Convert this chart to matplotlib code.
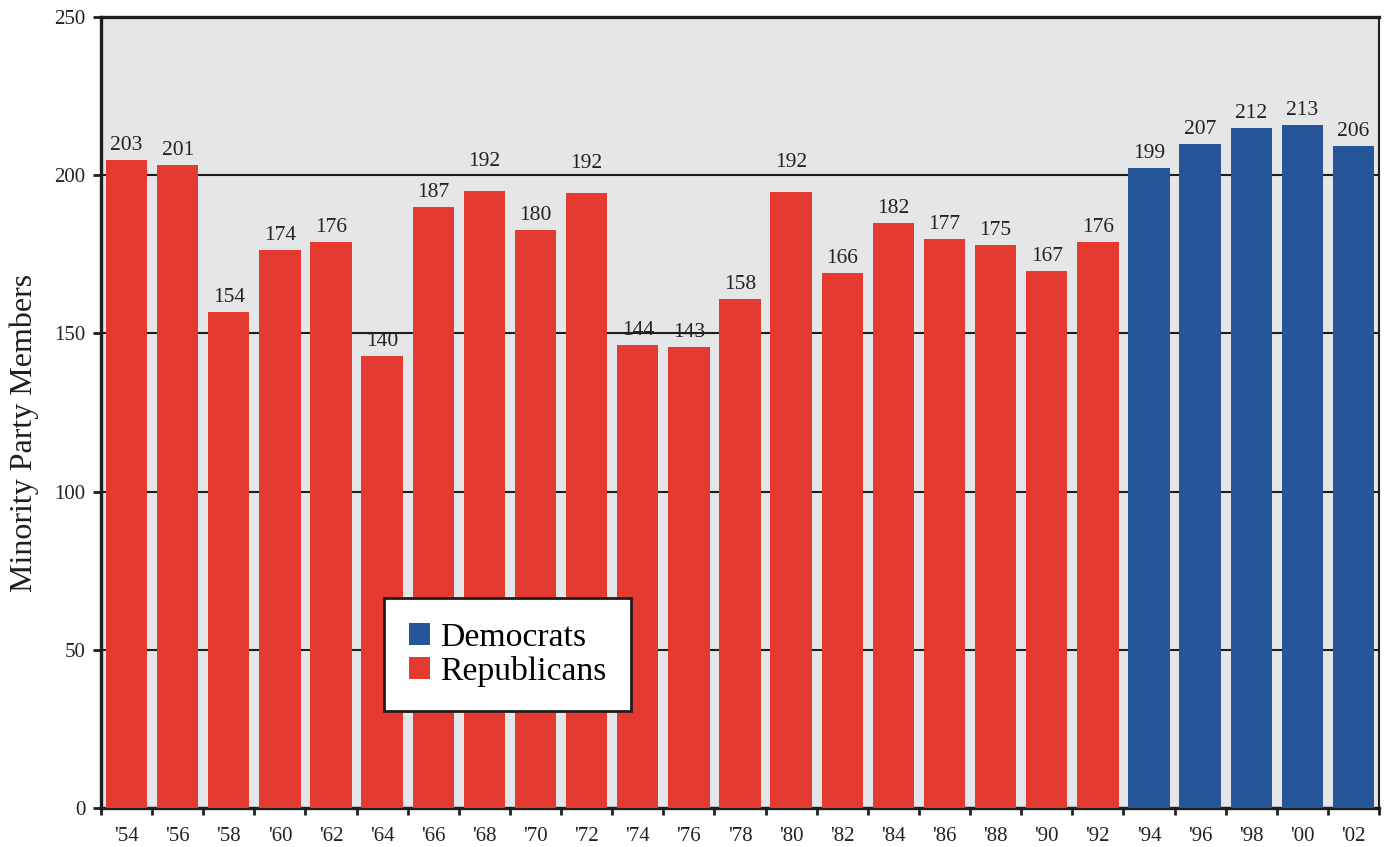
import matplotlib
matplotlib.use("Agg")
import matplotlib.pyplot as plt
from matplotlib.patches import Patch
import numpy as np

years = ["'54", "'56", "'58", "'60", "'62", "'64", "'66", "'68", "'70", "'72",
         "'74", "'76", "'78", "'80", "'82", "'84", "'86", "'88", "'90", "'92",
         "'94", "'96", "'98", "'00", "'02"]
seat_labels = [203, 201, 154, 174, 176, 140, 187, 192, 180, 192,
               144, 143, 158, 192, 166, 182, 177, 175, 167, 176,
               199, 207, 212, 213, 206]
bar_heights = [204.8, 203.2, 156.8, 176.4, 178.9, 142.9, 190.0, 195.0, 182.7, 194.4,
               146.3, 145.7, 160.9, 194.7, 169.1, 184.9, 179.8, 177.9, 169.7, 178.9,
               202.3, 209.9, 214.9, 215.9, 209.2]
party = ["R"] * 20 + ["D"] * 5
y_ticks = [0, 50, 100, 150, 200, 250]

RED = "#e53a32"
BLUE = "#26559a"
BG = "#e5e6e8"
FONT = "Liberation Serif"

plt.rcParams["font.family"] = FONT

fig = plt.figure(figsize=(13.91, 8.47), dpi=100)
ax = fig.add_axes([0.0726, 0.046, 0.9188, 0.934])
ax.set_facecolor(BG)

x = np.arange(len(years))
colors = [RED if p == "R" else BLUE for p in party]
ax.bar(x, bar_heights, width=0.81, color=colors, zorder=3)

for i, (h, lab) in enumerate(zip(bar_heights, seat_labels)):
    extra = 11 if lab == 192 else 0
    ax.annotate(str(lab), (x[i], h), xytext=(0, 3.5 + extra), textcoords="offset points",
                ha="center", va="bottom", fontsize=15.5, color="#222222", zorder=4)

ax.set_xlim(-0.5, len(years) - 0.5)
ax.set_ylim(0, 250)
ax.set_yticks(y_ticks)
ax.set_yticklabels([str(t) for t in y_ticks], fontsize=15, color="#222222")
ax.yaxis.grid(True, color="#1e1e1e", linewidth=1.5)
ax.set_axisbelow(True)

ax.set_xticks(x)
ax.set_xticklabels(years, fontsize=15, color="#222222")
ax.tick_params(axis="x", which="major", length=0, pad=14)
ax.set_xticks(np.arange(-0.5, len(years), 1.0), minor=True)
ax.tick_params(axis="x", which="minor", length=5, width=2, color="#1e1e1e", direction="out")
ax.tick_params(axis="y", length=6, width=2, color="#1e1e1e", direction="out", pad=5)

for side in ["left", "bottom", "top"]:
    ax.spines[side].set_linewidth(2.4)
    ax.spines[side].set_color("#1e1e1e")
ax.spines["right"].set_linewidth(1.5)
ax.spines["right"].set_color("#1e1e1e")

ax.set_ylabel("Minority Party Members", fontsize=23, color="#1e1e1e")
ax.yaxis.set_label_coords(-0.0485, 0.474)

handles = [Patch(facecolor=BLUE, label="Democrats"), Patch(facecolor=RED, label="Republicans")]
leg = ax.legend(handles=handles, loc="upper left", bbox_to_anchor=(0.2216, 0.2654),
                fontsize=24.3, frameon=True, fancybox=False, framealpha=1,
                edgecolor="#1e1e1e", handlelength=0.64, handleheight=0.64,
                handletextpad=0.3, labelspacing=0.08, borderpad=0.72, borderaxespad=0)
leg.get_frame().set_linewidth(2)
leg.set_zorder(5)

fig.savefig("out.png", dpi=100)
